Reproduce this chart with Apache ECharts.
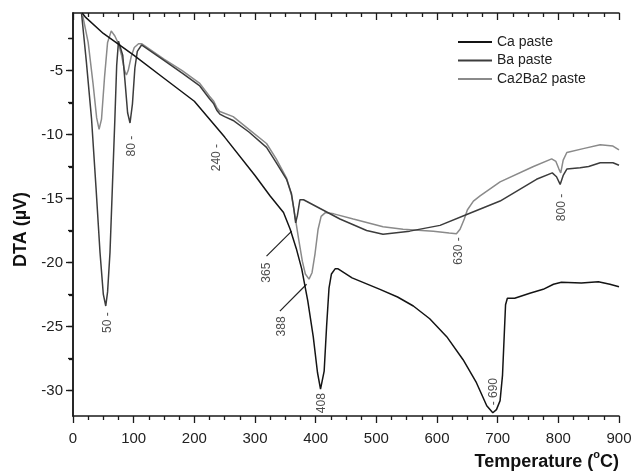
<!DOCTYPE html>
<html>
<head>
<meta charset="utf-8">
<script src="https://cdn.jsdelivr.net/npm/echarts@6/dist/echarts.min.js"></script>
<style>
  html, body { margin: 0; padding: 0; background: #fff; }
  #chart { width: 635px; height: 471px; }
</style>
</head>
<body>
<div id="chart"></div>
<script>
// DTA curves, [temperature °C, DTA µV]
const caPaste = [
  [15, -0.5], [20, -0.8], [50, -2.1], [100, -3.8], [150, -5.6], [200, -7.4],
  [250, -10.2], [300, -13.2], [325, -14.8], [347, -16.1], [358, -17.4],
  [368, -18.9], [377, -20.5], [387, -23.0], [396, -25.8], [403, -28.6],
  [408, -29.9], [411, -29.8], [414, -28.5], [418, -25.0], [422, -22.0],
  [426, -20.9], [432, -20.5], [437, -20.5], [460, -21.2], [506, -22.1],
  [535, -22.7], [561, -23.4], [588, -24.4], [616, -25.8], [643, -27.6],
  [665, -29.4], [682, -31.2], [692, -31.75], [698, -31.5], [704, -30.8],
  [708, -28.8], [711, -25.5], [713, -23.3], [716, -22.8], [728, -22.8],
  [753, -22.4], [775, -22.1], [792, -21.7], [805, -21.55], [838, -21.6],
  [866, -21.5], [885, -21.7], [900, -21.9]
];

const baPaste = [
  [14, -0.5], [22, -4.3], [30.6, -8.8], [38, -14.2], [44.5, -19.2], [50, -22.5],
  [54, -23.4], [57, -22.3], [61, -19.2], [65, -14.0], [69, -8.8], [72, -4.6],
  [75, -2.7], [78, -2.6], [82, -3.8], [86, -6.0], [90, -8.3], [94, -9.1],
  [98, -7.6], [102, -4.8], [106, -3.5], [113, -3.0], [150, -4.2], [180, -5.2],
  [209, -6.2], [225, -7.2], [232, -7.6], [237, -8.1], [242, -8.4], [250, -8.6],
  [264, -8.9], [290, -9.8], [319, -11.0], [335, -12.2], [352, -13.5], [360, -14.6],
  [364, -15.8], [367, -16.9], [370, -16.3], [374, -15.1], [380, -15.1],
  [412, -15.9], [440, -16.6], [484, -17.5], [511, -17.8], [555, -17.55],
  [605, -17.1], [649, -16.25], [704, -15.2], [764, -13.5], [790, -13.0],
  [797, -13.3], [803, -13.9], [808, -13.2], [814, -12.7], [836, -12.6],
  [850, -12.5], [869, -12.2], [890, -12.2], [900, -12.4]
];

const ca2ba2Paste = [
  [16, -0.7], [25, -2.8], [33, -6.0], [39, -8.7], [43, -9.6], [47, -8.8],
  [52, -5.5], [57, -2.8], [63, -1.9], [69, -2.3], [75, -2.9], [80, -3.8],
  [85, -5.0], [88, -5.35], [91, -5.0], [96, -3.9], [101, -3.2], [108, -2.9],
  [113, -2.9], [150, -4.1], [180, -5.0], [209, -6.0], [225, -7.0], [232, -7.4],
  [237, -7.9], [242, -8.2], [264, -8.6], [290, -9.6], [319, -10.7], [335, -11.9],
  [352, -13.4], [360, -14.7], [366, -16.4], [372, -18.2], [378, -19.9],
  [383, -20.9], [389, -21.3], [394, -20.8], [399, -19.3], [404, -17.4],
  [409, -16.4], [416, -16.1], [430, -16.2], [462, -16.6], [511, -17.2],
  [544, -17.4], [594, -17.55], [620, -17.7], [632, -17.75], [638, -17.4],
  [645, -16.6], [650, -15.9], [660, -15.2], [671, -14.8], [704, -13.7],
  [759, -12.5], [789, -11.9], [796, -12.1], [801, -12.7], [804, -13.0],
  [808, -12.0], [814, -11.4], [841, -11.1], [869, -10.8], [890, -10.9],
  [900, -11.2]
];

// peak annotations [x, y, text] (text is rotated)
const peakLabels = [
  [58, -24.7, '50 -'],
  [97, -10.9, '80 -'],
  [237, -11.8, '240 -'],
  [319, -20.8, '365'],
  [344, -25.0, '388'],
  [410, -31.0, '408'],
  [636, -19.1, '630 -'],
  [693, -30.1, '- 690'],
  [805, -15.7, '800 -']
];

// pointer lines from labels to the peaks
const pointer365 = [[319, -19.5], [360.5, -17.55]];
const pointer388 = [[341, -23.8], [385, -21.7]];

const yMajorTicks = [-30, -25, -20, -15, -10, -5];
const yMinorTicks = [-27.5, -22.5, -17.5, -12.5, -7.5, -2.5];
const yAllTicks = [-30, -27.5, -25, -22.5, -20, -17.5, -15, -12.5, -10, -7.5, -5, -2.5];

const FONT = '"Liberation Sans", Arial, sans-serif';
const AX = '#1a1a1a';

const chart = echarts.init(document.getElementById('chart'), null, { renderer: 'canvas' });

const gridBox = { left: 73, right: 16, top: 13, bottom: 54 };

chart.setOption({
  animation: false,
  backgroundColor: '#fff',
  grid: [
    Object.assign({}, gridBox),
    Object.assign({}, gridBox)
  ],
  legend: {
    orient: 'vertical',
    left: 453,
    top: 30,
    icon: 'rect',
    itemWidth: 34,
    itemHeight: 2,
    itemGap: 4.5,
    data: ['Ca paste', 'Ba paste', 'Ca2Ba2 paste'],
    textStyle: { fontFamily: FONT, fontSize: 14, color: '#222' }
  },
  xAxis: [
    {
      type: 'value', gridIndex: 0, position: 'bottom',
      min: 0, max: 900, interval: 100,
      axisLine: { show: true, lineStyle: { color: AX, width: 1.5 } },
      axisTick: { show: true, length: 7, lineStyle: { color: AX, width: 1.3 } },
      minorTick: { show: true, splitNumber: 4, length: 4, lineStyle: { color: AX, width: 1.3 } },
      splitLine: { show: false },
      axisLabel: { fontFamily: FONT, fontSize: 15, color: '#222', margin: 15 },
      name: '{a|Temperature (}{sup|o}{a|C)}',
      nameLocation: 'end',
      nameGap: 0,
      nameTextStyle: {
        align: 'right', verticalAlign: 'top', padding: [33, 0, 0, 0],
        rich: {
          a: { fontFamily: FONT, fontSize: 18, fontWeight: 'bold', color: '#111', lineHeight: 26 },
          sup: { fontFamily: FONT, fontSize: 11, fontWeight: 'bold', color: '#111', lineHeight: 10, verticalAlign: 'top' }
        }
      }
    },
    {
      type: 'value', gridIndex: 0, position: 'top',
      min: 0, max: 900, interval: 100,
      axisLine: { show: true, lineStyle: { color: AX, width: 1.5 } },
      axisTick: { show: true, inside: true, length: 7, lineStyle: { color: AX, width: 1.3 } },
      minorTick: { show: true, splitNumber: 4, length: 4, lineStyle: { color: AX, width: 1.3 } },
      splitLine: { show: false },
      axisLabel: { show: false }
    },
    {
      type: 'value', gridIndex: 1, show: false, min: 0, max: 900
    }
  ],
  yAxis: [
    {
      type: 'value', gridIndex: 0, position: 'left',
      min: -32, max: -0.5,
      axisLine: { show: true, lineStyle: { color: AX, width: 1.5 } },
      axisTick: { show: true, length: 7, customValues: yMajorTicks, lineStyle: { color: AX, width: 1.3 } },
      splitLine: { show: false },
      axisLabel: { fontFamily: FONT, fontSize: 15, color: '#222', margin: 10, customValues: yMajorTicks },
      name: 'DTA (µV)',
      nameLocation: 'middle',
      nameGap: 42,
      nameTextStyle: { fontFamily: FONT, fontSize: 18, fontWeight: 'bold', color: '#111', padding: [0, 30, 0, 0] }
    },
    {
      type: 'value', gridIndex: 0, position: 'right',
      min: -32, max: -0.5,
      axisLine: { show: true, lineStyle: { color: AX, width: 1.5 } },
      axisTick: { show: true, inside: true, length: 5, customValues: yAllTicks, lineStyle: { color: AX, width: 1.3 } },
      splitLine: { show: false },
      axisLabel: { show: false }
    },
    {
      type: 'value', gridIndex: 1, position: 'left',
      min: -32, max: -0.5,
      axisLine: { show: false },
      axisTick: { show: true, length: 4, customValues: yMinorTicks, lineStyle: { color: AX, width: 1.3 } },
      splitLine: { show: false },
      axisLabel: { show: false }
    }
  ],
  series: [
    {
      name: 'Ca paste', type: 'line', data: caPaste, showSymbol: false,
      xAxisIndex: 0, yAxisIndex: 0, z: 4,
      color: '#141414', lineStyle: { color: '#141414', width: 1.5 }
    },
    {
      name: 'Ba paste', type: 'line', data: baPaste, showSymbol: false,
      xAxisIndex: 0, yAxisIndex: 0, z: 3,
      color: '#3c3c3c', lineStyle: { color: '#3c3c3c', width: 1.5 }
    },
    {
      name: 'Ca2Ba2 paste', type: 'line', data: ca2ba2Paste, showSymbol: false,
      xAxisIndex: 0, yAxisIndex: 0, z: 2,
      color: '#8a8a8a', lineStyle: { color: '#8a8a8a', width: 1.5 }
    },
    {
      name: 'p365', type: 'line', data: pointer365, showSymbol: false, silent: true,
      xAxisIndex: 0, yAxisIndex: 0,
      lineStyle: { color: '#222', width: 1.2 }
    },
    {
      name: 'p388', type: 'line', data: pointer388, showSymbol: false, silent: true,
      xAxisIndex: 0, yAxisIndex: 0,
      lineStyle: { color: '#222', width: 1.2 }
    },
    {
      name: 'peaks', type: 'scatter', data: peakLabels, silent: true,
      xAxisIndex: 0, yAxisIndex: 0, symbolSize: 0.1,
      itemStyle: { color: 'rgba(0,0,0,0)' },
      label: {
        show: true, position: 'inside', rotate: 90,
        fontFamily: FONT, fontSize: 12, color: '#222',
        formatter: p => p.value[2]
      }
    }
  ]
});
</script>
</body>
</html>
